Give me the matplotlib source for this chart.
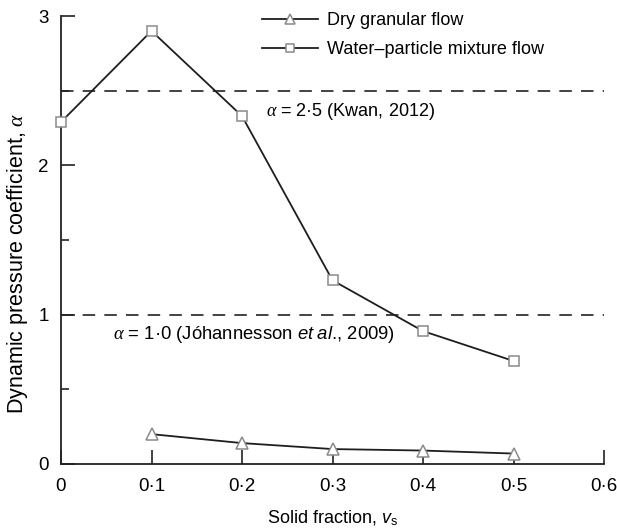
import matplotlib
matplotlib.use("Agg")
import matplotlib.pyplot as plt
from matplotlib.lines import Line2D

plt.rcParams['font.family'] = ['Liberation Sans', 'DejaVu Sans']
plt.rcParams['mathtext.fontset'] = 'custom'
plt.rcParams['mathtext.rm'] = 'Liberation Sans'
plt.rcParams['mathtext.it'] = 'Liberation Serif:italic'
plt.rcParams['mathtext.sf'] = 'Liberation Sans:italic'

# Solid fraction values and measured dynamic pressure coefficients
solid_fraction_water = [0.0, 0.1, 0.2, 0.3, 0.4, 0.5]
alpha_water = [2.29, 2.90, 2.33, 1.23, 0.89, 0.69]
solid_fraction_dry = [0.1, 0.2, 0.3, 0.4, 0.5]
alpha_dry = [0.20, 0.14, 0.10, 0.09, 0.07]

# Reference design values
alpha_kwan = 2.5
alpha_joh = 1.0

x_ticks = [0, 0.1, 0.2, 0.3, 0.4, 0.5, 0.6]
x_tick_labels = ['0', '0·1', '0·2', '0·3', '0·4', '0·5', '0·6']
y_ticks = [0, 1, 2, 3]
y_tick_labels = ['0', '1', '2', '3']

fig = plt.figure(figsize=(6.17, 5.29), dpi=100)
ax = fig.add_axes([61/617, 1 - 464/529, 543/617, 448/529])

line_color = '#1e1e1e'
marker_edge = '#8a8a8a'
fs = 13

ax.axhline(alpha_kwan, color='#222222', lw=1.2, ls=(0, (7.5, 5.5)))
ax.axhline(alpha_joh, color='#222222', lw=1.2, ls=(0, (7.5, 5.5)))

ax.plot(solid_fraction_dry, alpha_dry, color=line_color, lw=1.3,
        marker='^', ms=8.5, mfc='white', mec=marker_edge, mew=1.1, clip_on=False, zorder=5)
ax.plot(solid_fraction_water, alpha_water, color=line_color, lw=1.3,
        marker='s', ms=7, mfc='white', mec=marker_edge, mew=1.1, clip_on=False, zorder=5)

ax.text(0.226, 2.36, r'$\alpha$ = 2·5 (Kwan, 2012)', fontsize=fs, va='center', ha='left')
ax.text(0.057, 0.87, r'$\alpha$ = 1·0 (Jóhannesson $\mathsf{et\ al}$., 2009)', fontsize=13.3,
        va='center', ha='left')

ax.set_xlim(0, 0.6)
ax.set_ylim(0, 3)
ax.set_xticks(x_ticks)
ax.set_xticklabels(x_tick_labels)
ax.set_yticks(y_ticks)
ax.set_yticklabels(y_tick_labels)
ax.set_yticks([0.5, 1.5, 2.5], minor=True)
ax.tick_params(axis='both', which='major', direction='in', length=10, width=1.2,
               labelsize=13.5, color='#222222')
ax.tick_params(axis='x', which='major', pad=10)
ax.tick_params(axis='y', which='major', pad=9)
ax.tick_params(axis='y', which='minor', direction='in', length=6, width=1.2, color='#222222')

for s in ['top', 'right']:
    ax.spines[s].set_visible(False)
for s in ['left', 'bottom']:
    ax.spines[s].set_linewidth(1.3)
    ax.spines[s].set_color('#222222')

ax.set_xlabel(r'Solid fraction, $\mathsf{v}_{\rm s}$', fontsize=fs, labelpad=10)
ax.set_ylabel(r'Dynamic pressure coefficient, $\alpha$', fontsize=15.5)
ax.yaxis.set_label_coords(-0.057, 0.449)

handles = [
    Line2D([], [], color=line_color, lw=1.3, marker='^', ms=7.5, mfc='white',
           mec=marker_edge, mew=1.1),
    Line2D([], [], color=line_color, lw=1.3, marker='s', ms=6, mfc='white',
           mec=marker_edge, mew=1.1),
]
ax.legend(handles, ['Dry granular flow', 'Water–particle mixture flow'],
          loc='upper left', bbox_to_anchor=(0.34, 1.045), frameon=False,
          fontsize=fs, handlelength=3.1, handletextpad=0.5, labelspacing=0.65)

fig.savefig('out.png', dpi=100)
